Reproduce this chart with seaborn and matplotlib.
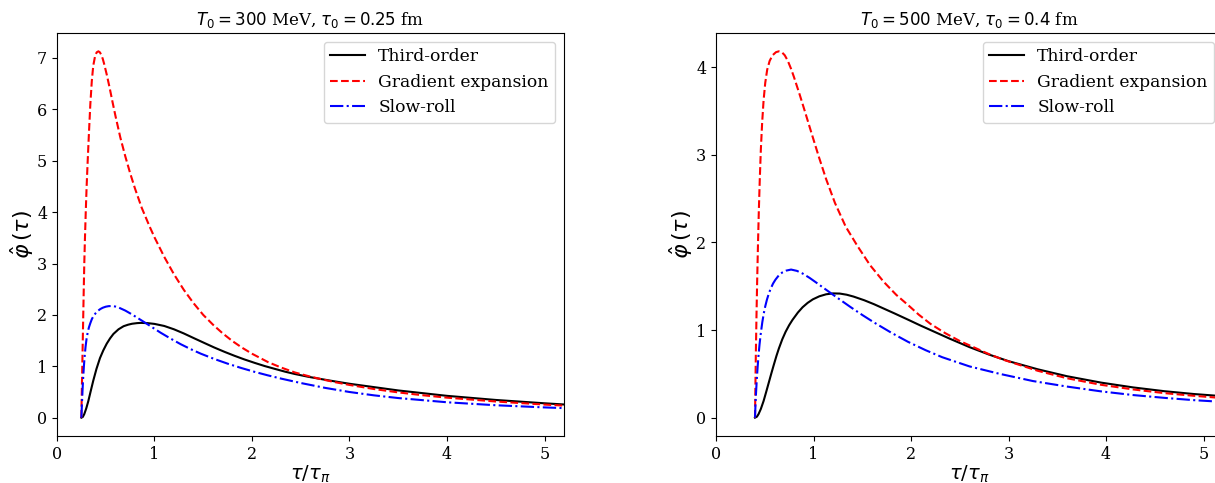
import numpy as np
import pandas as pd
import matplotlib
matplotlib.use('Agg')
import matplotlib.pyplot as plt
import seaborn as sns

# --- left panel: T0 = 300 MeV, tau0 = 0.25 fm ---
left_third_x = [0.25, 0.265, 0.28, 0.30, 0.321, 0.345, 0.372, 0.405, 0.441, 0.475, 0.51, 0.545,
                0.579, 0.631, 0.683, 0.73, 0.77, 0.82, 0.86, 0.93, 1.0, 1.1, 1.2, 1.3, 1.407,
                1.51, 1.614, 1.72, 1.82, 1.92, 2.03, 2.13, 2.234, 2.34, 2.44, 2.58, 2.72, 2.86,
                3.0, 3.5, 4.0, 4.5, 5.0, 5.2]
left_third_y = [0.0, 0.015, 0.07, 0.18, 0.32, 0.51, 0.72, 0.95, 1.16, 1.31, 1.44, 1.545,
                1.63, 1.72, 1.78, 1.81, 1.828, 1.84, 1.845, 1.84, 1.825, 1.785, 1.72, 1.64, 1.545,
                1.455, 1.365, 1.28, 1.205, 1.135, 1.065, 1.005, 0.95, 0.895, 0.85, 0.795, 0.748, 0.703,
                0.66, 0.53, 0.425, 0.345, 0.28, 0.257]

left_grad_x = [0.25, 0.254, 0.259, 0.264, 0.269, 0.274, 0.28, 0.287, 0.295, 0.304, 0.315, 0.328,
               0.342, 0.357, 0.372, 0.39, 0.407, 0.425, 0.44, 0.455, 0.47, 0.483, 0.51, 0.54,
               0.57, 0.60, 0.65, 0.70, 0.75, 0.80, 0.87, 0.95, 1.0, 1.1, 1.2, 1.3, 1.4, 1.5,
               1.6, 1.7, 1.8, 1.9, 2.0, 2.166, 2.3, 2.44, 2.58, 2.72, 2.86, 3.0, 3.25, 3.5,
               3.75, 4.0, 4.5, 5.0, 5.2]
left_grad_y = [0.0, 0.45, 0.95, 1.45, 1.95, 2.45, 3.0, 3.5, 4.0, 4.5, 5.0, 5.55,
               6.1, 6.55, 6.85, 7.03, 7.11, 7.13, 7.11, 7.06, 6.98, 6.89, 6.68, 6.42,
               6.14, 5.87, 5.45, 5.09, 4.76, 4.46, 4.08, 3.72, 3.51, 3.13, 2.79, 2.49, 2.23, 2.0,
               1.81, 1.64, 1.49, 1.36, 1.245, 1.08, 0.975, 0.88, 0.808, 0.745, 0.688, 0.637, 0.558, 0.492,
               0.437, 0.39, 0.315, 0.255, 0.235]

left_slow_x = [0.25, 0.254, 0.258, 0.262, 0.268, 0.276, 0.284, 0.293, 0.303, 0.315, 0.328, 0.342,
               0.358, 0.375, 0.395, 0.42, 0.445, 0.47, 0.50, 0.528, 0.555, 0.58, 0.605, 0.631,
               0.70, 0.769, 0.84, 0.907, 0.98, 1.062, 1.16, 1.269, 1.37, 1.476, 1.61, 1.752,
               1.89, 2.03, 2.16, 2.3, 2.5, 2.75, 3.0, 3.25, 3.5, 4.0, 4.5, 5.0, 5.2]
left_slow_y = [0.0, 0.18, 0.36, 0.53, 0.76, 1.0, 1.2, 1.38, 1.53, 1.66, 1.76, 1.84,
               1.92, 1.98, 2.03, 2.08, 2.115, 2.14, 2.16, 2.17, 2.173, 2.17, 2.16, 2.145,
               2.085, 2.01, 1.925, 1.845, 1.755, 1.655, 1.545, 1.43, 1.335, 1.245, 1.145, 1.05,
               0.967, 0.89, 0.825, 0.76, 0.675, 0.58, 0.50, 0.435, 0.382, 0.30, 0.242, 0.20, 0.186]

# --- right panel: T0 = 500 MeV, tau0 = 0.4 fm ---
right_third_x = [0.40, 0.42, 0.436, 0.46, 0.488, 0.515, 0.54, 0.565, 0.592, 0.62, 0.645, 0.68,
                 0.714, 0.75, 0.784, 0.84, 0.888, 0.94, 0.993, 1.06, 1.13, 1.2, 1.27, 1.34, 1.41,
                 1.52, 1.62, 1.72, 1.83, 1.97, 2.1, 2.25, 2.4, 2.6, 2.8, 3.0, 3.3, 3.6, 3.95,
                 4.28, 4.6, 4.9, 5.2]
right_third_y = [0.0, 0.012, 0.04, 0.1, 0.19, 0.295, 0.395, 0.495, 0.6, 0.705, 0.79, 0.895,
                 0.98, 1.055, 1.115, 1.2, 1.26, 1.31, 1.35, 1.385, 1.408, 1.418, 1.416, 1.403, 1.382,
                 1.34, 1.295, 1.245, 1.19, 1.118, 1.05, 0.975, 0.90, 0.805, 0.72, 0.645, 0.552, 0.473, 0.40,
                 0.345, 0.302, 0.27, 0.245]

right_grad_x = [0.40, 0.404, 0.409, 0.415, 0.422, 0.43, 0.439, 0.449, 0.46, 0.473, 0.488, 0.505,
                0.525, 0.55, 0.58, 0.615, 0.645, 0.675, 0.705, 0.735, 0.77, 0.80, 0.86, 0.917,
                0.98, 1.055, 1.13, 1.22, 1.33, 1.45, 1.58, 1.72, 1.85, 1.97, 2.08, 2.2, 2.35,
                2.5, 2.63, 2.8, 2.95, 3.3, 3.6, 3.95, 4.28, 4.6, 4.9, 5.2]
right_grad_y = [0.0, 0.35, 0.75, 1.15, 1.55, 1.95, 2.35, 2.72, 3.06, 3.36, 3.62, 3.82,
                3.97, 4.07, 4.135, 4.17, 4.18, 4.17, 4.135, 4.075, 3.98, 3.885, 3.68, 3.475,
                3.245, 2.975, 2.72, 2.45, 2.18, 1.96, 1.74, 1.55, 1.40, 1.285, 1.175, 1.07, 0.965,
                0.875, 0.81, 0.725, 0.66, 0.535, 0.45, 0.375, 0.322, 0.28, 0.25, 0.223]

right_slow_x = [0.40, 0.404, 0.41, 0.418, 0.427, 0.436, 0.446, 0.458, 0.475, 0.49, 0.505, 0.522,
                0.54, 0.56, 0.585, 0.61, 0.645, 0.68, 0.72, 0.77, 0.83, 0.888, 0.96, 1.03, 1.1,
                1.185, 1.28, 1.376, 1.5, 1.62, 1.8, 1.97, 2.15, 2.32, 2.6, 2.91, 3.25, 3.6,
                3.95, 4.28, 4.6, 4.9, 5.2]
right_slow_y = [0.0, 0.12, 0.27, 0.43, 0.58, 0.71, 0.83, 0.95, 1.09, 1.19, 1.27, 1.345,
                1.41, 1.47, 1.53, 1.575, 1.625, 1.657, 1.678, 1.69, 1.675, 1.645, 1.595, 1.54, 1.483,
                1.415, 1.34, 1.265, 1.172, 1.087, 0.968, 0.865, 0.77, 0.69, 0.585, 0.50, 0.418, 0.355,
                0.30, 0.258, 0.226, 0.20, 0.18]

labels = ['Third-order', 'Gradient expansion', 'Slow-roll']
titles = [r'$T_0 = 300$ MeV, $\tau_0 = 0.25$ fm', r'$T_0 = 500$ MeV, $\tau_0 = 0.4$ fm']

plt.rcParams['font.family'] = 'serif'
plt.rcParams['mathtext.fontset'] = 'dejavusans'

fig = plt.figure(figsize=(12.15, 4.83), dpi=100)
ax_left = fig.add_axes([0.0469, 0.0973, 0.4173, 0.8344])
ax_right = fig.add_axes([0.5893, 0.0973, 0.4173, 0.8344])

panels = [
    (ax_left, [(left_third_x, left_third_y), (left_grad_x, left_grad_y), (left_slow_x, left_slow_y)]),
    (ax_right, [(right_third_x, right_third_y), (right_grad_x, right_grad_y), (right_slow_x, right_slow_y)]),
]
colors = ['black', 'red', 'blue']
styles = ['-', '--', '-.']

for i, (ax, curves) in enumerate(panels):
    for (xs, ys), lab, c, ls in zip(curves, labels, colors, styles):
        df = pd.DataFrame({'x': xs, 'y': ys})
        sns.lineplot(data=df, x='x', y='y', ax=ax, color=c, linestyle=ls, linewidth=1.5,
                     label=lab, sort=False, estimator=None)
    ax.set_xlim(0, 5.2)
    ax.set_xlabel(r'$\tau/\tau_\pi$', fontsize=14, labelpad=1)
    ax.set_ylabel(r'$\hat{\varphi}\,(\tau)$', fontsize=16, labelpad=1)
    ax.set_title(titles[i], fontsize=12)
    ax.tick_params(labelsize=11.5)
    ax.legend(loc='upper right', fontsize=12.3)

fig.savefig('out.png', dpi=100)
